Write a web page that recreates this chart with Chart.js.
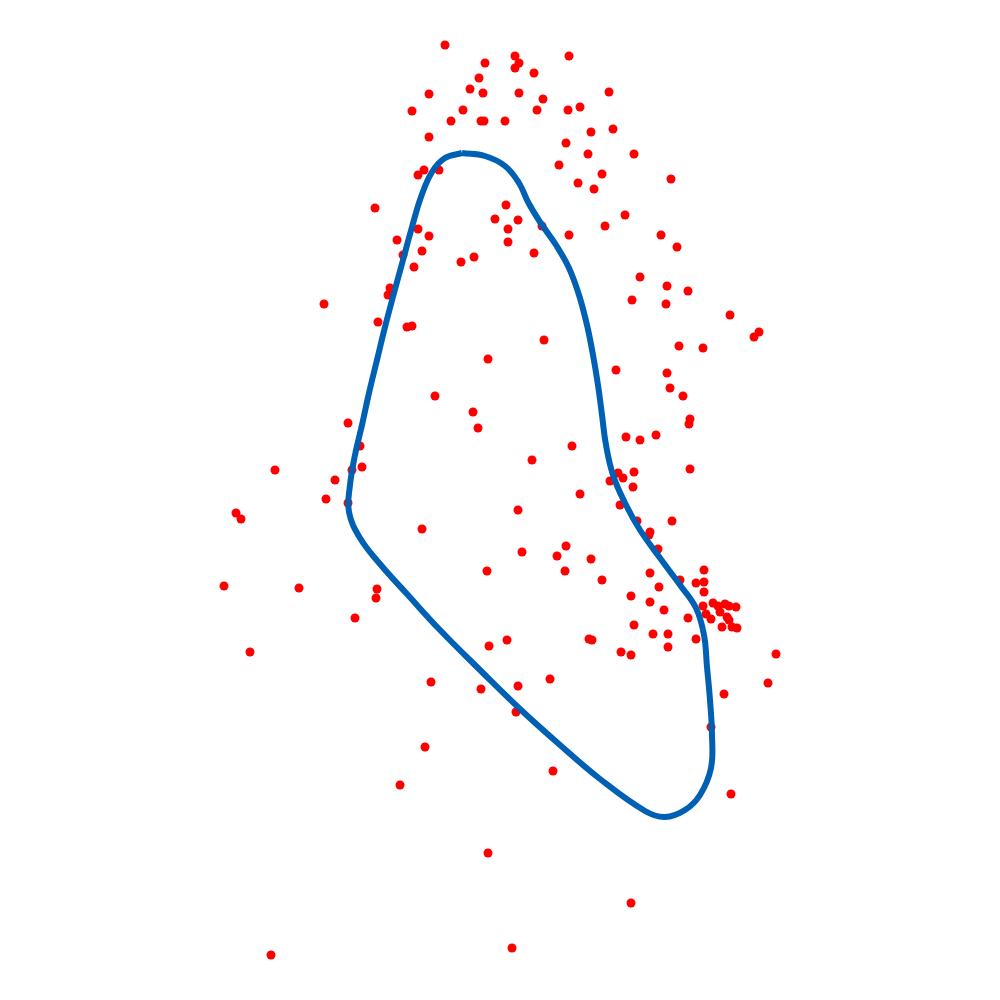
<!DOCTYPE html>
<html>
<head>
<meta charset="utf-8">
<script src="https://cdn.jsdelivr.net/npm/chart.js@4"></script>
<style>
html,body{margin:0;padding:0;background:#fff;}
#wrap{width:1000px;height:1000px;}
</style>
</head>
<body>
<div id="wrap"><canvas id="c" width="1000" height="1000"></canvas></div>
<script>
// Scatter sample (x, y) values
const pointX = [445,485,515,519,515,569,534,479,470,483,429,519,543,609,412,463,537,568,580,451,481,484,505,429,591,613,566,588,634,559,602,671,578,594,424,418,439,
375,506,495,518,508,508,542,569,534,418,429,397,422,403,414,461,474,390,388,324,378,407,412,544,
625,605,661,677,640,667,688,632,666,730,759,754,679,703,616,667,670,683,690,689,626,640,656,
435,348,360,362,352,275,335,326,348,236,241,422,
488,473,478,572,532,690,618,623,634,610,633,580,518,620,672,637,
650,649,658,602,650,659,680,704,631,650,664,688,634,653,668,668,621,631,776,
696,704,704,703,713,718,725,729,736,706,711,720,727,729,722,737,732,696,
224,299,377,376,355,250,487,522,557,566,565,591,489,507,589,592,550,431,481,518,516,425,553,400,
768,724,711,731,488,631,512,271];
const pointY = [45,63,56,63,68,56,73,78,89,93,94,93,99,92,111,110,110,110,107,121,121,121,121,137,132,129,143,154,154,165,174,179,183,189,170,175,170,
208,205,219,220,229,242,226,235,253,229,236,240,251,255,267,262,257,288,295,304,322,327,326,340,
215,226,235,247,277,286,291,300,304,315,332,337,346,348,370,373,388,396,419,424,437,440,435,
396,423,446,467,470,470,480,499,503,513,519,529,
359,412,428,446,460,469,473,478,472,481,487,494,510,505,521,521,
532,535,549,580,573,587,580,570,596,602,610,618,625,634,634,647,652,655,654,
583,582,592,606,603,606,604,606,607,614,619,612,617,620,627,628,627,639,
586,588,589,598,618,652,571,552,556,546,571,559,646,640,639,640,679,682,689,686,712,747,771,785,
683,694,727,794,853,903,948,955];

// Closed contour (x, y) values
const curveX = [462,485,505,519,528,540,556,569,579,587,593,598,602,606,613,625,640,660,680,696,704,707,710,712,711,700,685,665,645,600,560,520,480,440,407,380,360,349,350,355,362,369,377,385,394,403,412,421,432,445,462];
const curveY = [153,156,166,183,202,222,245,268,295,325,355,385,415,445,475,503,530,558,585,608,635,667,700,735,768,795,810,817,811,779,745,709,670,630,594,564,538,512,485,455,425,393,360,327,293,260,227,197,172,158,153];

const pts = pointX.map((x,i)=>({x:x,y:pointY[i]}));
const curve = curveX.map((x,i)=>({x:x,y:curveY[i]}));

new Chart(document.getElementById('c'), {
  type: 'scatter',
  data: {
    datasets: [
      {
        label: 'contour',
        data: curve,
        showLine: true,
        borderColor: '#0061b4',
        borderWidth: 6,
        pointRadius: 0,
        tension: 0.4,
        fill: false,
        order: 0
      },
      {
        label: 'points',
        data: pts,
        backgroundColor: '#ff0000',
        borderColor: '#ff0000',
        borderWidth: 0,
        pointRadius: 4.5,
        order: 1
      }
    ]
  },
  options: {
    responsive: false,
    animation: false,
    layout: { padding: 0, autoPadding: false },
    plugins: { legend: { display: false }, tooltip: { enabled: false } },
    scales: {
      x: { type: 'linear', min: 0, max: 1000, display: false },
      y: { type: 'linear', min: 0, max: 1000, reverse: true, display: false }
    }
  }
});
</script>
</body>
</html>
